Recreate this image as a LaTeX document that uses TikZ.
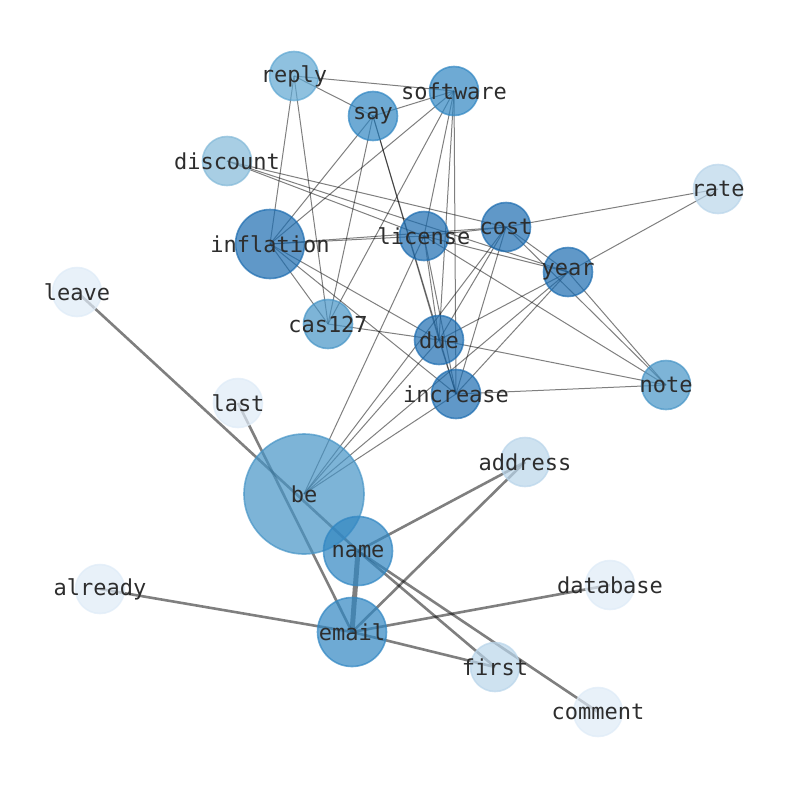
\documentclass[tikz,border=0pt]{standalone}
\usepackage{fontspec}
\newfontfamily\labfont{DejaVu Sans Mono}
\pgfdeclarelayer{bg}
\pgfsetlayers{bg,main}
\definecolor{bA}{RGB}{222,235,247}
\definecolor{bB}{RGB}{185,213,234}
\definecolor{bC}{RGB}{131,185,216}
\definecolor{bD}{RGB}{95,167,210}
\definecolor{bE}{RGB}{70,148,198}
\definecolor{bF}{RGB}{48,134,194}
\definecolor{bG}{RGB}{28,108,176}
\definecolor{labc}{RGB}{45,45,45}
\begin{document}
\begin{tikzpicture}[x=1pt,y=-1pt,
  vtx/.style 2 args={circle, minimum size=#1, inner sep=0pt, fill=#2, draw=#2,
    fill opacity=0.7, draw opacity=0.7, line width=1.6pt},
  lab/.style={font=\labfont\fontsize{22}{24}\selectfont, text=labc, inner sep=0pt, anchor=center},
  thin/.style={draw=black, draw opacity=0.5, line width=1pt},
  thick/.style={draw=black, draw opacity=0.5, line width=2.6pt},
  thicker/.style={draw=black, draw opacity=0.5, line width=5pt}]
\useasboundingbox (0,0) rectangle (794,790);
% nodes
\node[vtx={49}{bD}] (reply) at (294,76) {};
\node[vtx={49}{bF}] (software) at (454,91) {};
\node[vtx={49}{bF}] (say) at (373,116) {};
\node[vtx={49}{bC}] (discount) at (227,161) {};
\node[vtx={49}{bB}] (rate) at (718,189) {};
\node[vtx={69}{bG}] (inflation) at (270,244) {};
\node[vtx={49}{bG}] (license) at (424,236) {};
\node[vtx={49}{bG}] (cost) at (506,227) {};
\node[vtx={49}{bG}] (year) at (568,272) {};
\node[vtx={49}{bA}] (leave) at (77,292) {};
\node[vtx={49}{bE}] (cas127) at (328,324) {};
\node[vtx={49}{bG}] (due) at (439,340) {};
\node[vtx={49}{bE}] (note) at (666,385) {};
\node[vtx={49}{bG}] (increase) at (456,394) {};
\node[vtx={49}{bA}] (last) at (238,403) {};
\node[vtx={49}{bB}] (address) at (525,462) {};
\node[vtx={120}{bE}] (be) at (304,494) {};
\node[vtx={69}{bF}] (name) at (358,551) {};
\node[vtx={49}{bA}] (database) at (610,585) {};
\node[vtx={49}{bA}] (already) at (100,589) {};
\node[vtx={69}{bF}] (email) at (352,632) {};
\node[vtx={49}{bB}] (first) at (495,667) {};
\node[vtx={49}{bA}] (comment) at (598,712) {};
% labels
\foreach \n in {reply,software,say,discount,rate,inflation,license,cost,year,leave,cas127,due,note,increase,last,address,be,name,database,already,email,first,comment}
  \node[lab] (\n-l) at (\n.center) {\n};
% edges
\begin{pgfonlayer}{bg}
\foreach \a/\b in {reply/software,reply/say,reply/inflation,reply/cas127,
  say/software,say/inflation,say/cas127,say/due,say/increase,
  software/inflation,software/cas127,software/license,software/due,software/increase,
  discount/license,discount/cost,discount/year,
  inflation/license,inflation/cost,inflation/cas127,inflation/due,inflation/increase,
  license/cost,license/year,license/due,license/increase,license/note,
  cost/year,cost/rate,cost/note,cost/due,cost/increase,
  year/rate,year/note,year/due,year/increase,
  cas127/due,due/note,due/increase,increase/note,
  be/license,be/cost,be/due,be/year,be/increase}
  \draw[thin] (\a.center) -- (\b.center);
\foreach \a/\b in {leave/name,last/email,name/address,name/first,name/comment,
  email/address,email/already,email/database,email/first}
  \draw[thick] (\a.center) -- (\b.center);
\draw[thicker] (name.center) -- (email.center);
\end{pgfonlayer}
\end{tikzpicture}
\end{document}
